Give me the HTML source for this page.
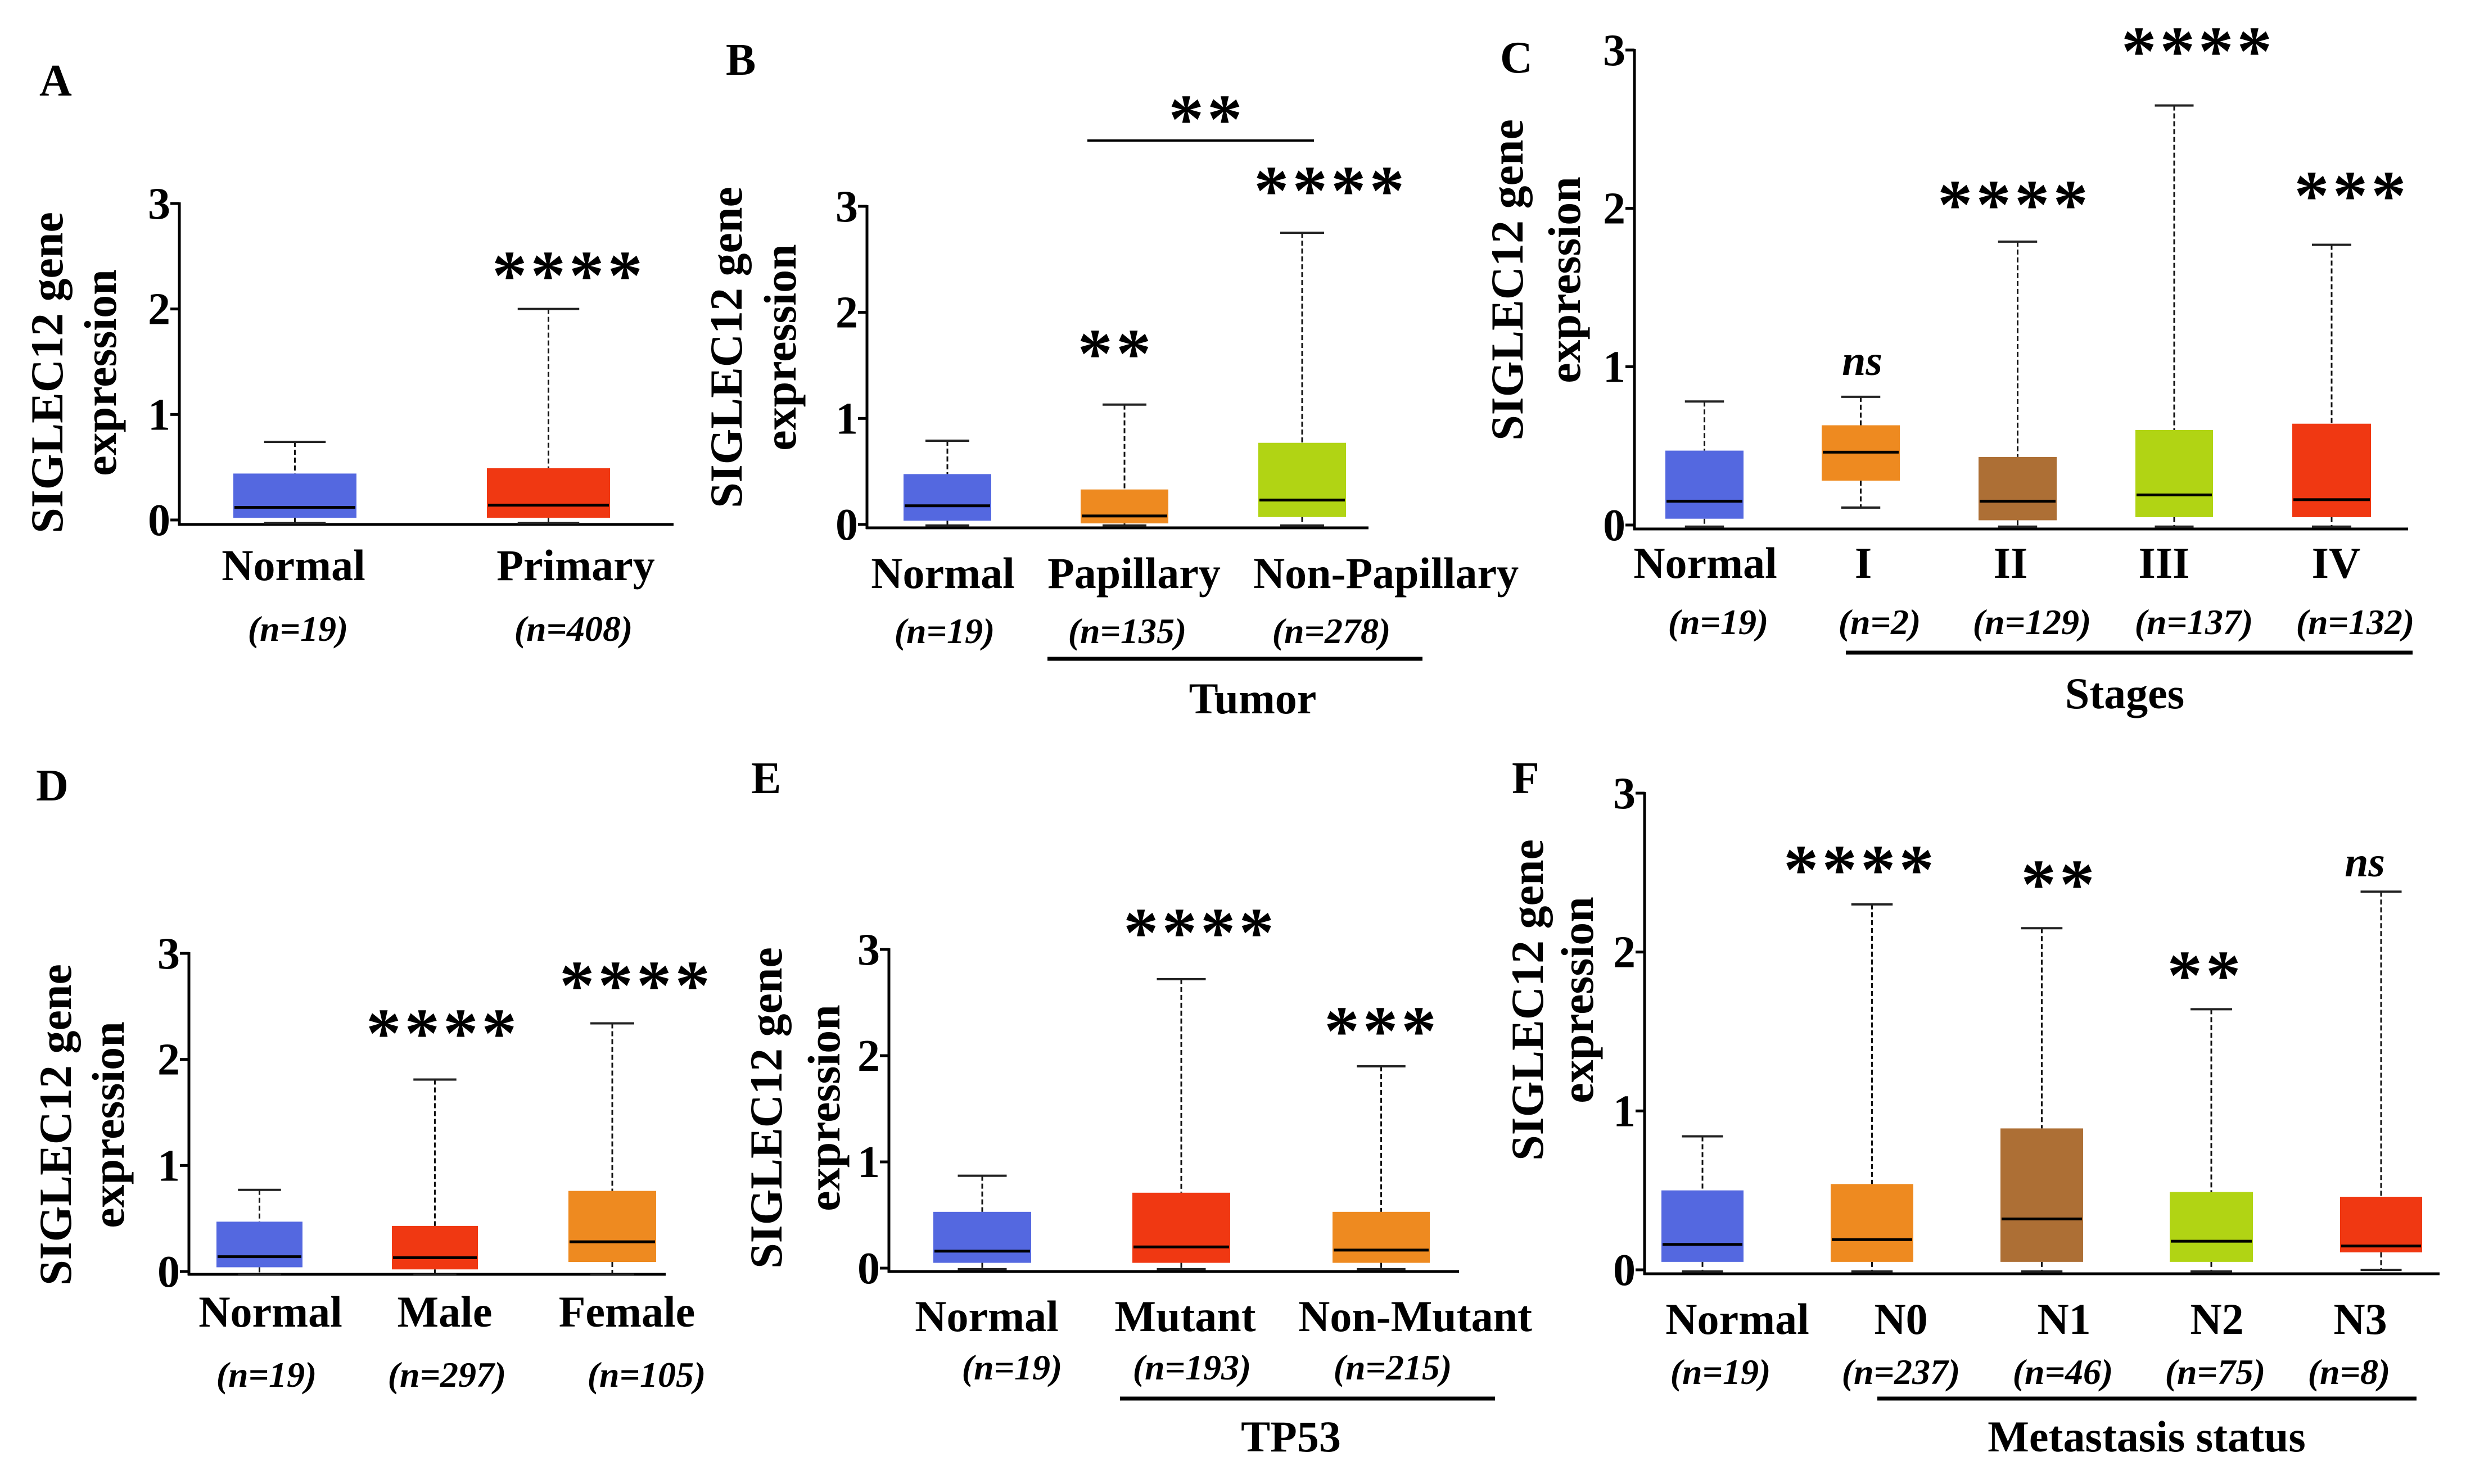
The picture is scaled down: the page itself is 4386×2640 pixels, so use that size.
<!DOCTYPE html>
<html><head><meta charset="utf-8"><style>
html,body{margin:0;padding:0;background:#fff;}
svg{display:block;}
text{font-family:"Liberation Serif",serif;font-weight:bold;fill:#000;}
</style></head><body>
<svg id="fig" xmlns="http://www.w3.org/2000/svg" width="4386" height="2640" viewBox="0 0 4386 2640"></svg>
<script>
// ---- data ----
const catsA = ["Normal","Primary"];
const nA = ["(n=19)","(n=408)"];
const maxA = [0.74,2.0], q3A = [0.44,0.49], medA = [0.12,0.14], q1A = [0.02,0.02], minA = [-0.03,-0.03];
const sigA = ["","****"];

const catsB = ["Normal","Papillary","Non-Papillary"];
const nB = ["(n=19)","(n=135)","(n=278)"];
const maxB = [0.79,1.13,2.75], q3B = [0.475,0.33,0.77], medB = [0.176,0.08,0.23], q1B = [0.035,0.01,0.07], minB = [-0.01,-0.01,-0.01];
const sigB = ["","**","****"];

const catsC = ["Normal","I","II","III","IV"];
const nC = ["(n=19)","(n=2)","(n=129)","(n=137)","(n=132)"];
const maxC = [0.78,0.81,1.79,2.65,1.77], q3C = [0.47,0.63,0.43,0.60,0.64], medC = [0.15,0.46,0.15,0.19,0.16], q1C = [0.04,0.28,0.03,0.05,0.05], minC = [-0.01,0.11,-0.01,-0.01,-0.01];
const sigC = ["","ns","****","****","***"];

const catsD = ["Normal","Male","Female"];
const nD = ["(n=19)","(n=297)","(n=105)"];
const maxD = [0.77,1.81,2.34], q3D = [0.47,0.43,0.76], medD = [0.14,0.13,0.28], q1D = [0.04,0.02,0.09], minD = [-0.03,-0.03,-0.03];
const sigD = ["","****","****"];

const catsE = ["Normal","Mutant","Non-Mutant"];
const nE = ["(n=19)","(n=193)","(n=215)"];
const maxE = [0.87,2.72,1.90], q3E = [0.53,0.71,0.53], medE = [0.16,0.20,0.17], q1E = [0.05,0.05,0.05], minE = [-0.01,-0.01,-0.01];
const sigE = ["","****","***"];

const catsF = ["Normal","N0","N1","N2","N3"];
const nF = ["(n=19)","(n=237)","(n=46)","(n=75)","(n=8)"];
const maxF = [0.84,2.30,2.15,1.64,2.38], q3F = [0.50,0.54,0.89,0.49,0.46], medF = [0.16,0.19,0.32,0.18,0.15], q1F = [0.05,0.05,0.05,0.05,0.11], minF = [-0.01,-0.01,-0.01,-0.01,0.0];
const sigF = ["","****","**","**","ns"];

const yTicks = [0,1,2,3];
const yTickLabels = ["0","1","2","3"];

// ---- layout (pixels) ----
const NS = "http://www.w3.org/2000/svg";
const svg = document.getElementById('fig');
function el(tag, attrs, parent){
  const e = document.createElementNS(NS, tag);
  for (const k in attrs) e.setAttribute(k, attrs[k]);
  (parent||svg).appendChild(e);
  return e;
}
function txt(str, x, y, size, parent, opts){
  opts = opts||{};
  const t = el('text', {x:x, y:y, 'font-size':size, 'text-anchor':opts.anchor||'middle'}, parent);
  if (opts.italic) t.setAttribute('font-style','italic');
  if (opts.rot) t.setAttribute('transform','rotate(-90 '+x+' '+y+')');
  if (opts.ls) t.setAttribute('letter-spacing', opts.ls);
  t.textContent = str;
  return t;
}

const panels = [
 {id:'a', letter:'A', lx:70, ly:170, ylc:[83,178], ylcy:663,
  ax0:319, ax1:1198, y0:925, y3:362, base:933,
  boxes:[[415,634],[866,1085]], cats:catsA, ns:nA, mx:maxA, q3:q3A, md:medA, q1:q1A, mn:minA, sig:sigA,
  labelY:1032, labelX:[522,1024], nY:1140, nX:[530,1020], sigY:[0,473], sigX:[0,1012]},
 {id:'b', letter:'B', lx:1291, ly:133, ylc:[1291,1387], ylcy:618,
  ax0:1542, ax1:2434, y0:933, y3:367, base:939,
  boxes:[[1607,1763],[1922,2078],[2238,2394]], cats:catsB, ns:nB, mx:maxB, q3:q3B, md:medB, q1:q1B, mn:minB, sig:sigB,
  labelY:1046, labelX:[1677,2017,2465], nY:1144, nX:[1680,2005,2368], sigY:[0,612,322], sigX:[0,1985,2367],
  group:{y:1172, x0:1863, x1:2530, title:'Tumor', tx:2228, ty:1269},
  bracket:{y:250, x0:1934, x1:2337, sig:'**', sx:2147, sy:195}},
 {id:'c', letter:'C', lx:2668, ly:129, ylc:[2680,2782], ylcy:498,
  ax0:2907, ax1:4283, y0:934, y3:89, base:941,
  boxes:[[2962,3101],[3240,3379],[3519,3658],[3798,3936],[4077,4217]], cats:catsC, ns:nC, mx:maxC, q3:q3C, md:medC, q1:q1C, mn:minC, sig:sigC,
  labelY:1028, labelX:[3033,3314,3576,3849,4155], nY:1128, nX:[3056,3343,3614,3902,4189], sigY:[0,647,347,74,331], sigX:[0,3312,3583,3910,4183],
  group:{y:1161, x0:3283, x1:4291, title:'Stages', tx:3779, ty:1260}},
 {id:'d', letter:'D', lx:64, ly:1424, ylc:[98,192], ylcy:2001,
  ax0:336, ax1:1184, y0:2262, y3:1696, base:2267,
  boxes:[[385,538],[697,850],[1011,1167]], cats:catsD, ns:nD, mx:maxD, q3:q3D, md:medD, q1:q1D, mn:minD, sig:sigD,
  labelY:2360, labelX:[481,791,1115], nY:2467, nX:[474,795,1150], sigY:[0,1821,1736], sigX:[0,788,1132]},
 {id:'e', letter:'E', lx:1336, ly:1411, ylc:[1362,1465], ylcy:1971,
  ax0:1581, ax1:2595, y0:2256, y3:1689, base:2262,
  boxes:[[1660,1834],[2014,2188],[2370,2543]], cats:catsE, ns:nE, mx:maxE, q3:q3E, md:medE, q1:q1E, mn:minE, sig:sigE,
  labelY:2368, labelX:[1755,2108,2517], nY:2454, nX:[1800,2120,2477], sigY:[0,1642,1817], sigX:[0,2135,2458],
  group:{y:2488, x0:1992, x1:2659, title:'TP53', tx:2296, ty:2582}},
 {id:'f', letter:'F', lx:2689, ly:1411, ylc:[2716,2805], ylcy:1779,
  ax0:2925, ax1:4339, y0:2259, y3:1411, base:2266,
  boxes:[[2955,3101],[3256,3403],[3558,3705],[3859,4007],[4162,4308]], cats:catsF, ns:nF, mx:maxF, q3:q3F, md:medF, q1:q1F, mn:minF, sig:sigF,
  labelY:2373, labelX:[3090,3381,3671,3943,4198], nY:2462, nX:[3060,3381,3669,3940,4178], sigY:[0,1530,1556,1718,1539], sigX:[0,3309,3663,3923,4206],
  group:{y:2488, x0:3339, x1:4298, title:'Metastasis status', tx:3818, ty:2582}}
];
const colorsByCat = {"Normal":"#5468E0","Primary":"#F03812","Papillary":"#EE8A20","Non-Papillary":"#B1D414",
  "I":"#EE8A20","II":"#AD6F35","III":"#B1D414","IV":"#F03812","Male":"#F03812","Female":"#EE8A20",
  "Mutant":"#F03812","Non-Mutant":"#EE8A20","N0":"#EE8A20","N1":"#AD6F35","N2":"#B1D414","N3":"#F03812"};

const FS = 78, YFS = 82, STAR = 125;

panels.forEach(p => {
  const g = el('g', {});
  
  
  const yS = v => p.y0 + (p.y3 - p.y0) * v / 3;

  const L = txt(p.letter, p.lx, p.ly, 80, g, {anchor:'start'});
  
  

  const t1 = txt('SIGLEC12 gene', p.ylc[0] + 28, p.ylcy, YFS, g, {rot:true});
  
  
  const t2 = txt('expression', p.ylc[1] + 28, p.ylcy, YFS, g, {rot:true});
  
  

  // axes
  const ya = el('line', {x1:p.ax0, y1:p.y3 - 2, x2:p.ax0, y2:p.base + 2, stroke:'#000', 'stroke-width':5}, g);
  
  
  const xa = el('line', {x1:p.ax0 - 2, y1:p.base, x2:p.ax1, y2:p.base, stroke:'#000', 'stroke-width':5}, g);
  
  
  yTicks.forEach((v, i) => {
    const ty = yS(v);
    const tk = el('line', {x1:p.ax0 - 16, y1:ty, x2:p.ax0, y2:ty, stroke:'#000', 'stroke-width':5}, g);
    
    
    const tl = txt(yTickLabels[i], p.ax0 - 16, ty + 27, 80, g, {anchor:'end'});
    
    
  });

  // boxes
  p.cats.forEach((c, i) => {
    const [bx0, bx1] = p.boxes[i];
    const cx = (bx0 + bx1) / 2, w = bx1 - bx0, cw = w * 0.5;
    const bg = el('g', {}, g);
    
    
    const wu = el('line', {x1:cx, y1:yS(p.mx[i]), x2:cx, y2:yS(p.q3[i]), stroke:'#111', 'stroke-width':3, 'stroke-dasharray':'9,5'}, bg);
    
    
    const wl = el('line', {x1:cx, y1:yS(p.q1[i]), x2:cx, y2:yS(p.mn[i]), stroke:'#111', 'stroke-width':3, 'stroke-dasharray':'9,5'}, bg);
    
    
    const cu = el('line', {x1:cx - cw/2, y1:yS(p.mx[i]), x2:cx + cw/2, y2:yS(p.mx[i]), stroke:'#222', 'stroke-width':4}, bg);
    
    
    const cl = el('line', {x1:cx - cw/2, y1:yS(p.mn[i]), x2:cx + cw/2, y2:yS(p.mn[i]), stroke:'#222', 'stroke-width':4}, bg);
    
    
    const r = el('rect', {x:bx0, y:yS(p.q3[i]), width:w, height:yS(p.q1[i]) - yS(p.q3[i]), fill:colorsByCat[c]}, bg);
    
    
    const m = el('line', {x1:bx0 + 2, y1:yS(p.md[i]), x2:bx1 - 2, y2:yS(p.md[i]), stroke:'#000', 'stroke-width':5}, bg);
    
    

    const cl2 = txt(c, p.labelX[i], p.labelY, FS, g);
    
    
    const nl = txt(p.ns[i], p.nX[i], p.nY, 64, g, {italic:true});
    
    

    const s = p.sig[i];
    if (s) {
      let st;
      if (s === 'ns') { st = txt('ns', p.sigX[i], p.sigY[i] + 20, 76, g, {italic:true}); }
      else { st = txt(s, p.sigX[i], p.sigY[i] + STAR * 0.47, STAR, g, {ls:6}); }
      
      
    }
  });

  if (p.group) {
    const gl = el('line', {x1:p.group.x0, y1:p.group.y, x2:p.group.x1, y2:p.group.y, stroke:'#000', 'stroke-width':7}, g);
    
    
    const gt = txt(p.group.title, p.group.tx, p.group.ty, FS, g);
    
    
  }
  if (p.bracket) {
    const bl = el('line', {x1:p.bracket.x0, y1:p.bracket.y, x2:p.bracket.x1, y2:p.bracket.y, stroke:'#000', 'stroke-width':4}, g);
    
    
    const bs = txt(p.bracket.sig, p.bracket.sx, p.bracket.sy + STAR * 0.47, STAR, g, {ls:6});
    
    
  }
});
</script>
</body></html>
